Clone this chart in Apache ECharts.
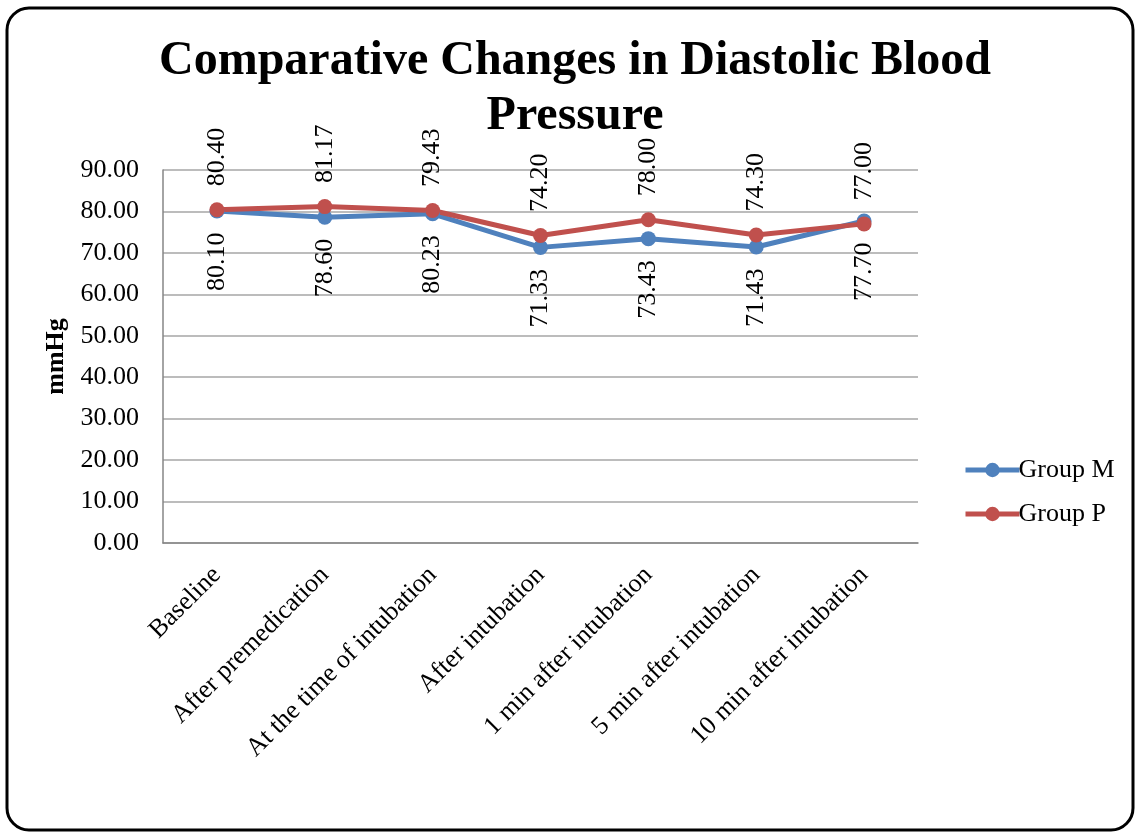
<!DOCTYPE html>
<html><head><meta charset="utf-8">
<script src="https://cdn.jsdelivr.net/npm/echarts@6/dist/echarts.min.js"></script>
<style>html,body{margin:0;padding:0;background:#fff}#c{width:1137px;height:834px}</style>
</head><body><div id="c"></div>
<script>
const categories = ['Baseline','After premedication','At the time of intubation','After intubation','1 min after intubation','5 min after intubation','10 min after intubation'];
const groupM = [80.10, 78.60, 79.43, 71.33, 73.43, 71.43, 77.70];
const groupP = [80.40, 81.17, 80.23, 74.20, 78.00, 74.30, 77.00];
const labelsM = ['80.10','78.60','80.23','71.33','73.43','71.43','77.70'];
const labelsP = ['80.40','81.17','79.43','74.20','78.00','74.30','77.00'];
const F = 'Liberation Serif, Times New Roman, serif';
const chart = echarts.init(document.getElementById('c'));
chart.setOption({
  animation: false,
  backgroundColor: '#fff',
  graphic: [{type:'rect', shape:{x:7,y:8,width:1126,height:822,r:22}, style:{fill:'none',stroke:'#000',lineWidth:3}, z:-1}],
  title: {text:'Comparative Changes in Diastolic Blood\nPressure', left:570, textAlign:'center', top:29,
    textStyle:{fontFamily:F,fontWeight:'bold',fontSize:48,color:'#000',lineHeight:55}},
  legend: {orient:'vertical', left:958, top:452, itemGap:18, itemWidth:54, itemHeight:18,
    lineStyle:{width:5},
    textStyle:{fontFamily:F,fontSize:26,color:'#000',padding:[0,0,0,-6]},
    data:['Group M','Group P']},
  grid: {left:163, right:219, top:170, bottom:291},
  xAxis: {type:'category', data:categories, boundaryGap:true,
    axisLine:{lineStyle:{color:'#868686',width:1.5}}, axisTick:{show:false},
    axisLabel:{rotate:45, interval:0, margin:28, fontFamily:F, fontSize:26, color:'#000'}},
  yAxis: {type:'value', min:0, max:90, interval:10,
    name:'mmHg', nameLocation:'middle', nameGap:90, nameRotate:90,
    nameTextStyle:{fontFamily:F,fontWeight:'bold',fontSize:26,color:'#000'},
    axisLine:{show:true,lineStyle:{color:'#868686',width:1.5}}, axisTick:{show:false},
    splitLine:{lineStyle:{color:'#a6a6a6',width:1.5}},
    axisLabel:{margin:24, fontFamily:F, fontSize:26, color:'#000', formatter:v=>v.toFixed(2)}},
  series: [
    {name:'Group M', type:'line', data:groupM, symbol:'circle', symbolSize:15,
     itemStyle:{color:'#4f81bd'}, lineStyle:{color:'#4f81bd',width:5},
     label:{show:true, position:'bottom', distance:14, rotate:90, align:'right', verticalAlign:'middle',
       fontFamily:F, fontSize:26, color:'#000', formatter:p=>labelsM[p.dataIndex]}},
    {name:'Group P', type:'line', data:groupP, symbol:'circle', symbolSize:15,
     itemStyle:{color:'#c0504d'}, lineStyle:{color:'#c0504d',width:5},
     label:{show:true, position:'top', distance:16, rotate:90, align:'left', verticalAlign:'middle',
       fontFamily:F, fontSize:26, color:'#000', formatter:p=>labelsP[p.dataIndex]}}
  ]
});
</script></body></html>
